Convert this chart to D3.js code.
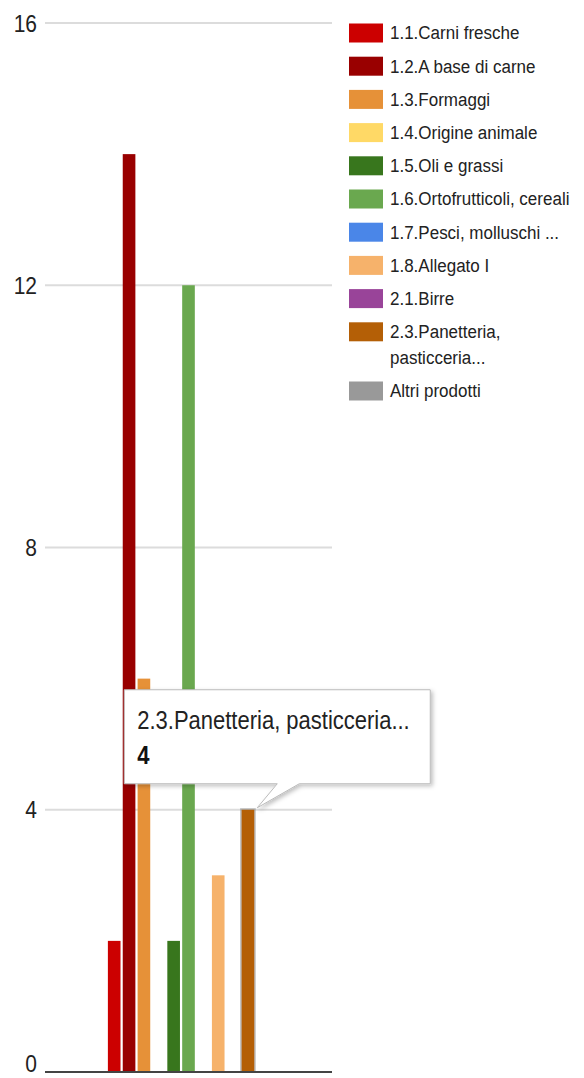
<!DOCTYPE html>
<html>
<head>
<meta charset="utf-8">
<script src="https://cdn.jsdelivr.net/npm/d3@7"></script>
<style>
  body { margin: 0; background: #fff; }
  svg { display: block; font-family: "Liberation Sans", Arial, sans-serif; }
</style>
</head>
<body>
<div id="chart"></div>
<script>
// Column chart, one category, one bar per product group

const categories = [""]
const seriesNames = [
  "1.1.Carni fresche",
  "1.2.A base di carne",
  "1.3.Formaggi",
  "1.4.Origine animale",
  "1.5.Oli e grassi",
  "1.6.Ortofrutticoli, cereali",
  "1.7.Pesci, molluschi ...",
  "1.8.Allegato I",
  "2.1.Birre",
  "2.3.Panetteria, pasticceria...",
  "Altri prodotti",
]
const seriesValues = [2, 14, 6, 0, 2, 12, 0, 3, 0, 4, 0]
const seriesColors = [
  "#cc0000", "#990000", "#e69138", "#ffd966", "#38761d", "#6aa84f",
  "#4a86e8", "#f6b26b", "#994499", "#b45f06", "#999999",
]
const yTicks = [0, 4, 8, 12, 16]
const hovered = "2.3.Panetteria, pasticceria..."

const W = 584, H = 1078
const margin = { top: 23, right: 252, bottom: 6, left: 45 }
const stretch = 1.15 // text in the reference is a bit taller than wide

const svg = d3.select("#chart").append("svg").attr("width", W).attr("height", H)

const x0 = d3.scaleBand()
  .domain(categories)
  .range([margin.left, W - margin.right])
  .paddingOuter(0.39)

const x1 = d3.scaleBand()
  .domain(seriesNames)
  .range([0, x0.bandwidth()])
  .paddingInner(0.15)

const y = d3.scaleLinear()
  .domain([0, 16])
  .range([H - margin.bottom, margin.top])

// Gridlines
svg.append("g")
  .selectAll("line")
  .data(yTicks.filter((d) => d !== 0))
  .join("line")
  .attr("x1", margin.left)
  .attr("x2", W - margin.right)
  .attr("y1", (d) => y(d))
  .attr("y2", (d) => y(d))
  .style("stroke", "#dcdcdc")
  .style("stroke-width", 2)

// Y axis labels (the 0 sits a little higher so it stays inside the page)
svg.append("g")
  .selectAll("text")
  .data(yTicks)
  .join("text")
  .attr("transform", (d) => `translate(37,${d === 0 ? y(d) - 9 : y(d)}) scale(1,${stretch})`)
  .attr("text-anchor", "end")
  .attr("dy", "0.36em")
  .style("font-size", "21px")
  .style("fill", "#222")
  .text((d) => d)

// Bars
const group = svg.append("g").attr("transform", `translate(${x0(categories[0])},0)`)

const barData = seriesNames.map((name, i) => ({ name, value: seriesValues[i], color: seriesColors[i] }))

// shadow around the hovered bar
const hb = barData.find((d) => d.name === hovered)
group.append("rect")
  .attr("x", x1(hb.name) - 1.5)
  .attr("y", y(hb.value) - 1.5)
  .attr("width", x1.bandwidth() + 3)
  .attr("height", y(0) - y(hb.value) + 1.5)
  .style("fill", "#888")
  .style("opacity", 0.55)

group.selectAll(".bar")
  .data(barData.filter((d) => d.value > 0))
  .join("rect")
  .attr("class", "bar")
  .attr("x", (d) => x1(d.name))
  .attr("y", (d) => y(d.value))
  .attr("width", x1.bandwidth())
  .attr("height", (d) => y(0) - y(d.value))
  .style("fill", (d) => d.color)

// Baseline
svg.append("line")
  .attr("x1", margin.left)
  .attr("x2", W - margin.right)
  .attr("y1", y(0))
  .attr("y2", y(0))
  .style("stroke", "#444")
  .style("stroke-width", 2)

// Legend
const legendStretch = 1.05
const legend = svg.append("g").attr("transform", "translate(349,0)")
let extra = 0
seriesNames.forEach((name, i) => {
  const cy = 33 + 33.2 * i + extra
  const item = legend.append("g")
  item.append("rect")
    .attr("x", 0)
    .attr("y", cy - 9.5)
    .attr("width", 34)
    .attr("height", 19)
    .style("fill", seriesColors[i])

  const txt = item.append("text")
    .attr("transform", `translate(41,${cy}) scale(1,${legendStretch})`)
    .attr("dy", "0.36em")
    .style("font-size", "17px")
    .style("fill", "#222")
    .text(name)

  // wrap long labels on words
  if (txt.node().getComputedTextLength() > 192) {
    const words = name.split(" ")
    txt.text(null)
    let line = []
    let lines = []
    const probe = txt.append("tspan")
    words.forEach((w) => {
      line.push(w)
      probe.text(line.join(" "))
      if (probe.node().getComputedTextLength() > 192 && line.length > 1) {
        line.pop()
        lines.push(line.join(" "))
        line = [w]
      }
    })
    lines.push(line.join(" "))
    probe.remove()
    lines.forEach((l, k) => {
      txt.append("tspan").attr("x", 0).attr("dy", k === 0 ? "0.36em" : 26 / legendStretch).text(l)
    })
    txt.attr("dy", null)
    extra += 26 * (lines.length - 1)
  }
})

// Tooltip
const tipX = x0(categories[0]) + x1(hovered) + x1.bandwidth() + 3
const tipY = y(hb.value) - 2
const bx = tipX - 133, by = tipY - 118, bw = 306, bh = 94
const tipPath = `M${bx},${by} H${bx + bw} V${by + bh} H${tipX + 42} L${tipX},${tipY} L${tipX + 20},${by + bh} H${bx} Z`

const defs = svg.append("defs")
const f = defs.append("filter").attr("id", "tipShadow").attr("x", "-10%").attr("y", "-10%").attr("width", "130%").attr("height", "140%")
f.append("feDropShadow").attr("dx", 2).attr("dy", 2).attr("stdDeviation", 2).attr("flood-color", "#000").attr("flood-opacity", 0.25)

svg.append("path")
  .attr("d", tipPath)
  .attr("filter", "url(#tipShadow)")
  .style("fill", "#fff")
  .style("stroke", "#bbb")
  .style("stroke-width", 1)

svg.append("text")
  .attr("transform", `translate(${bx + 13},${by + 30}) scale(1,${stretch})`)
  .attr("dy", "0.36em")
  .style("font-size", "22px")
  .style("fill", "#222")
  .text(hovered)

svg.append("text")
  .attr("transform", `translate(${bx + 13},${by + 65}) scale(1,${stretch})`)
  .attr("dy", "0.36em")
  .style("font-size", "22px")
  .style("font-weight", "bold")
  .style("fill", "#111")
  .text(hb.value)
</script>
</body>
</html>
